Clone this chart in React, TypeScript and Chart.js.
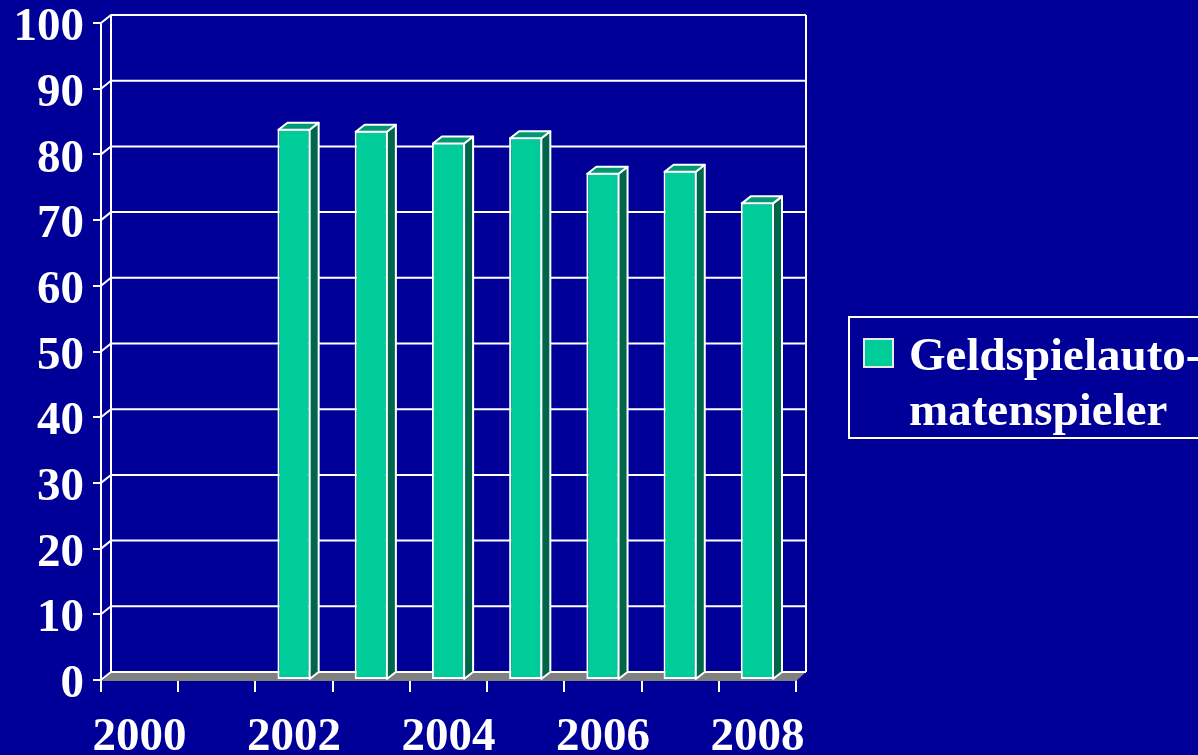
import { useEffect, useRef } from 'react'
import { Chart, Plugin, registerables } from 'chart.js'

Chart.register(...registerables)

// Data (share in %, years without a bar are null)
const years = ['2000', '2001', '2002', '2003', '2004', '2005', '2006', '2007', '2008']
const shares: (number | null)[] = [null, null, 83.9, 83.6, 81.8, 82.6, 77.2, 77.5, 72.7]
const yMin = 0
const yMax = 100
const yStep = 10
const seriesName = 'Geldspielautomatenspieler'
const legendLines = ['Geldspielauto-', 'matenspieler']

const BG = '#000099'
const FRONT = '#00CC99'
const SIDE = '#006649'
const TOP = '#009973'
const FLOOR = '#808080'
const FONT = '"Times New Roman", "Liberation Serif", serif'

// depth of the walls and of the bars
const WALL_DX = 10
const WALL_DY = 8
const BAR_DX = 9
const BAR_DY = 7

const walls3d: Plugin<'bar'> = {
  id: 'walls3d',
  beforeDatasetsDraw(chart) {
    const { ctx, chartArea, scales } = chart
    const { left, right, top, bottom } = chartArea
    const y = scales.y
    ctx.save()
    // floor
    ctx.fillStyle = FLOOR
    ctx.beginPath()
    ctx.moveTo(left + 1, bottom + 1)
    ctx.lineTo(right, bottom + 1)
    ctx.lineTo(right + WALL_DX, bottom - WALL_DY)
    ctx.lineTo(left + 1 + WALL_DX, bottom - WALL_DY)
    ctx.closePath()
    ctx.fill()

    ctx.strokeStyle = '#ffffff'
    ctx.lineWidth = 2
    ctx.lineJoin = 'miter'
    // gridlines on the back wall, joined to the front axis
    y.ticks.forEach(t => {
      const py = y.getPixelForValue(t.value)
      ctx.beginPath()
      ctx.moveTo(left, py)
      ctx.lineTo(left + WALL_DX, py - WALL_DY)
      ctx.lineTo(right + WALL_DX, py - WALL_DY)
      ctx.stroke()
    })
    // back wall edges
    ctx.beginPath()
    ctx.moveTo(left + WALL_DX, top - WALL_DY)
    ctx.lineTo(left + WALL_DX, bottom - WALL_DY)
    ctx.moveTo(right + WALL_DX, top - WALL_DY)
    ctx.lineTo(right + WALL_DX, bottom - WALL_DY)
    ctx.stroke()
    ctx.restore()
  },
  afterDatasetsDraw(chart) {
    const { ctx } = chart
    const meta = chart.getDatasetMeta(0)
    ctx.save()
    ctx.strokeStyle = '#ffffff'
    ctx.lineWidth = 2
    ctx.lineJoin = 'round'
    meta.data.forEach((el: any, i: number) => {
      if (shares[i] == null) return
      const { x, y, base, width } = el.getProps(['x', 'y', 'base', 'width'], true)
      const xl = x - width / 2 + 1
      const xr = x + width / 2 - 1
      const yt = y + 1
      const yb = base
      // side face
      ctx.fillStyle = SIDE
      ctx.beginPath()
      ctx.moveTo(xr, yt)
      ctx.lineTo(xr + BAR_DX, yt - BAR_DY)
      ctx.lineTo(xr + BAR_DX, yb - BAR_DY)
      ctx.lineTo(xr, yb)
      ctx.closePath()
      ctx.fill()
      ctx.stroke()
      // top face
      ctx.fillStyle = TOP
      ctx.beginPath()
      ctx.moveTo(xl, yt)
      ctx.lineTo(xl + BAR_DX, yt - BAR_DY)
      ctx.lineTo(xr + BAR_DX, yt - BAR_DY)
      ctx.lineTo(xr, yt)
      ctx.closePath()
      ctx.fill()
      ctx.stroke()
    })
    ctx.restore()
  }
}

const App = () => {
  const canvasRef = useRef<HTMLCanvasElement>(null)

  useEffect(() => {
    const ctx = canvasRef.current?.getContext('2d')
    if (!ctx) return

    const chart = new Chart(ctx, {
      type: 'bar',
      data: {
        labels: years,
        datasets: [
          {
            label: seriesName,
            data: shares,
            backgroundColor: FRONT,
            borderColor: '#ffffff',
            borderWidth: 2,
            borderSkipped: false,
            categoryPercentage: 1,
            barPercentage: 0.43
          }
        ]
      },
      options: {
        responsive: true,
        maintainAspectRatio: false,
        animation: false,
        events: [],
        layout: {
          padding: { top: 23, right: 402, left: 0, bottom: 0 }
        },
        plugins: {
          legend: { display: false },
          tooltip: { enabled: false }
        },
        scales: {
          x: {
            offset: true,
            grid: {
              offset: true,
              drawOnChartArea: false,
              drawTicks: true,
              tickLength: 12,
              color: '#ffffff',
              lineWidth: 2
            },
            border: { display: false },
            ticks: {
              color: '#ffffff',
              font: { family: FONT, size: 47, weight: 'bold' },
              padding: 18,
              autoSkip: false,
              maxRotation: 0,
              minRotation: 0,
              callback: (_v: any, i: number) => (i % 2 === 0 ? years[i] : '')
            },
            afterFit: (scale: any) => {
              scale.height = 75
              scale.paddingLeft = 0
              scale.paddingRight = 0
            }
          },
          y: {
            min: yMin,
            max: yMax,
            grid: {
              drawOnChartArea: false,
              drawTicks: true,
              tickLength: 8,
              color: '#ffffff',
              lineWidth: 2
            },
            border: { display: true, color: '#ffffff', width: 2 },
            ticks: {
              stepSize: yStep,
              color: '#ffffff',
              font: { family: FONT, size: 47, weight: 'bold' },
              padding: 9,
              labelOffset: 5
            },
            afterFit: (scale: any) => {
              scale.width = 101
              scale.paddingTop = 0
              scale.paddingBottom = 0
            }
          }
        }
      },
      plugins: [walls3d]
    })

    return () => {
      chart.destroy()
    }
  }, [])

  return (
    <div
      style={{
        position: 'absolute',
        left: 0,
        top: 0,
        width: 1198,
        height: 755,
        background: BG,
        overflow: 'hidden',
        fontFamily: FONT
      }}
    >
      <div style={{ position: 'absolute', left: 0, top: 0, width: 1198, height: 755 }}>
        <canvas ref={canvasRef} />
      </div>
      {/* legend */}
      <div
        style={{
          position: 'absolute',
          left: 848,
          top: 316,
          width: 420,
          height: 123,
          boxSizing: 'border-box',
          border: '2px solid #ffffff'
        }}
      />
      <div
        style={{
          position: 'absolute',
          left: 863,
          top: 338,
          width: 31,
          height: 30,
          boxSizing: 'border-box',
          background: FRONT,
          border: '2px solid #e8e8e8'
        }}
      />
      <div
        style={{
          position: 'absolute',
          left: 909,
          top: 327,
          color: '#ffffff',
          fontWeight: 'bold',
          fontSize: 47,
          lineHeight: '55px',
          whiteSpace: 'pre'
        }}
      >
        {legendLines.map(line => (
          <div key={line}>{line}</div>
        ))}
      </div>
    </div>
  )
}

export default App
